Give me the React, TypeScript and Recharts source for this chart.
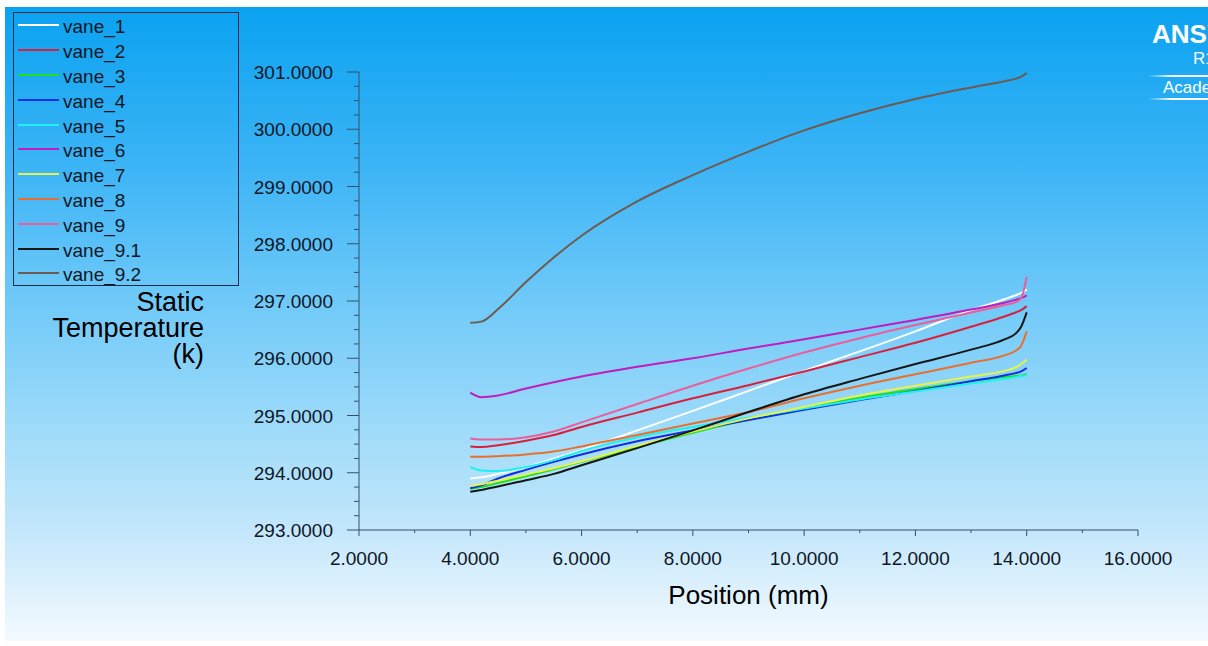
import { LineChart, Line, XAxis, YAxis, Legend } from "recharts";

// positions along the vane (mm)
const positions = [4.0, 4.2, 4.5, 5.0, 5.5, 6.0, 7.0, 8.0, 9.0, 10.0, 11.0, 12.0, 13.0, 13.6, 13.8, 13.9, 14.0];

// static temperature (K) per vane
const vane1 = [293.9, 293.92, 293.98, 294.1, 294.25, 294.4, 294.74, 295.08, 295.43, 295.78, 296.12, 296.47, 296.84, 297.03, 297.1, 297.14, 297.2];
const vane2 = [294.46, 294.45, 294.48, 294.56, 294.66, 294.8, 295.05, 295.3, 295.53, 295.77, 296.02, 296.27, 296.55, 296.73, 296.8, 296.84, 296.91];
const vane3 = [293.72, 293.75, 293.82, 293.94, 294.06, 294.19, 294.45, 294.7, 294.93, 295.13, 295.31, 295.46, 295.6, 295.67, 295.69, 295.7, 295.72];
const vane4 = [293.73, 293.78, 293.9, 294.05, 294.19, 294.32, 294.55, 294.74, 294.92, 295.1, 295.27, 295.43, 295.6, 295.7, 295.74, 295.77, 295.83];
const vane5 = [294.1, 294.04, 294.03, 294.1, 294.22, 294.38, 294.62, 294.8, 294.96, 295.12, 295.28, 295.42, 295.56, 295.64, 295.67, 295.69, 295.7];
const vane6 = [295.4, 295.32, 295.35, 295.47, 295.58, 295.68, 295.85, 296.0, 296.17, 296.33, 296.5, 296.67, 296.85, 296.97, 297.02, 297.05, 297.1];
const vane7 = [293.77, 293.8, 293.86, 293.97, 294.08, 294.2, 294.47, 294.72, 294.95, 295.15, 295.35, 295.52, 295.68, 295.78, 295.84, 295.9, 295.98];
const vane8 = [294.28, 294.28, 294.29, 294.32, 294.37, 294.46, 294.66, 294.86, 295.06, 295.3, 295.52, 295.72, 295.92, 296.05, 296.13, 296.22, 296.47];
const vane9 = [294.6, 294.58, 294.58, 294.62, 294.72, 294.88, 295.2, 295.52, 295.82, 296.1, 296.35, 296.58, 296.8, 296.93, 296.98, 297.05, 297.42];
const vane91 = [293.67, 293.7, 293.76, 293.87, 293.98, 294.13, 294.43, 294.74, 295.06, 295.37, 295.64, 295.9, 296.15, 296.33, 296.43, 296.55, 296.8];
const vane92 = [296.62, 296.64, 296.86, 297.33, 297.76, 298.14, 298.74, 299.2, 299.61, 299.98, 300.28, 300.53, 300.73, 300.84, 300.88, 300.92, 300.98];

const xTicks = [2, 3, 4, 5, 6, 7, 8, 9, 10, 11, 12, 13, 14, 15, 16];
const yMajorTicks = [293, 294, 295, 296, 297, 298, 299, 300, 301];
const yTicks = yMajorTicks.flatMap((v) => (v < 301 ? [v, v + 0.25, v + 0.5, v + 0.75] : [v]));

const series = [
  { key: "vane_1", name: "vane_1", values: vane1, color: "#ffffff" },
  { key: "vane_2", name: "vane_2", values: vane2, color: "#d8203c" },
  { key: "vane_3", name: "vane_3", values: vane3, color: "#1ee01e" },
  { key: "vane_4", name: "vane_4", values: vane4, color: "#1030e0" },
  { key: "vane_5", name: "vane_5", values: vane5, color: "#22f0f0" },
  { key: "vane_6", name: "vane_6", values: vane6, color: "#c01cc0" },
  { key: "vane_7", name: "vane_7", values: vane7, color: "#e6f24e" },
  { key: "vane_8", name: "vane_8", values: vane8, color: "#e8702e" },
  { key: "vane_9", name: "vane_9", values: vane9, color: "#ea5e9c" },
  { key: "vane_9_1", name: "vane_9.1", values: vane91, color: "#161616" },
  { key: "vane_9_2", name: "vane_9.2", values: vane92, color: "#6e5a50" },
];

const data = positions.map((pos, i) => {
  const row: Record<string, number> = { pos };
  series.forEach((s) => (row[s.key] = s.values[i]));
  return row;
});

const FONT = '"Liberation Sans", Arial, sans-serif';
const INK = "#0f1624";
const AXIS = "#34506a";

const YTick = (props: any) => {
  const { x, y, payload } = props;
  const major = Number.isInteger(payload.value);
  return (
    <g>
      <line x1={x - (major ? 12 : 5)} x2={x} y1={y} y2={y} stroke={AXIS} strokeWidth={1} />
      {major && (
        <text x={x - 26} y={y + 7} textAnchor="end" fontSize={19} fill={INK} fontFamily={FONT}>
          {payload.value.toFixed(4)}
        </text>
      )}
    </g>
  );
};

const XTick = (props: any) => {
  const { x, y, payload } = props;
  const major = payload.value % 2 === 0;
  return (
    <g>
      <line x1={x} x2={x} y1={y} y2={y + (major ? 6 : 3)} stroke={AXIS} strokeWidth={1} />
      {major && (
        <text x={x} y={y + 35} textAnchor="middle" fontSize={19} fill={INK} fontFamily={FONT}>
          {payload.value.toFixed(4)}
        </text>
      )}
    </g>
  );
};

const renderLegend = (props: any) => (
  <div
    style={{
      width: 226,
      height: 274,
      border: "1px solid #1a2a48",
      boxSizing: "border-box",
      fontFamily: FONT,
    }}
  >
    {props.payload.map((entry: any) => (
      <div key={entry.value} style={{ display: "flex", alignItems: "center", height: 24.8 }}>
        <span style={{ width: 41, height: 2, background: entry.color, marginLeft: 4, marginRight: 4 }} />
        <span style={{ fontSize: 19, color: INK, lineHeight: "20px", paddingTop: 4 }}>{entry.value}</span>
      </div>
    ))}
  </div>
);

const titleLine = { height: 26, lineHeight: "26px" };

export default function App() {
  return (
    <div
      style={{
        position: "absolute",
        left: 0,
        top: 0,
        width: 1208,
        height: 646,
        background: "#ffffff",
        overflow: "hidden",
      }}
    >
      <div
        style={{
          position: "absolute",
          left: 5,
          top: 7,
          width: 1203,
          height: 634,
          background: "linear-gradient(to bottom, #0aa2f0 0%, #3cb4f6 25%, #6cc8f8 45%, #a2dcfa 68%, #c2e6fb 82%, #f4faff 100%)",
        }}
      />
      {/* ANSYS logo, cut off by the right edge */}
      <div style={{ position: "absolute", left: 1152, top: 19, color: "#ffffff", fontFamily: FONT, fontSize: 26, fontWeight: "bold", whiteSpace: "nowrap" }}>
        ANSYS
      </div>
      <div style={{ position: "absolute", left: 1193, top: 49, color: "#ffffff", fontFamily: FONT, fontSize: 17, whiteSpace: "nowrap" }}>
        R15.0
      </div>
      <div style={{ position: "absolute", left: 1148, top: 75, width: 60, height: 2, background: "linear-gradient(to right, rgba(255,255,255,0), #ffffff 40%)" }} />
      <div style={{ position: "absolute", left: 1163, top: 78, color: "#ffffff", fontFamily: FONT, fontSize: 17, whiteSpace: "nowrap" }}>
        Academic
      </div>
      <div style={{ position: "absolute", left: 1148, top: 98, width: 60, height: 2, background: "linear-gradient(to right, rgba(255,255,255,0), #ffffff 40%)" }} />
      {/* y axis title */}
      <div
        style={{
          position: "absolute",
          right: 1208 - 204,
          top: 289,
          textAlign: "right",
          fontFamily: FONT,
          fontSize: 27,
          color: "#000000",
          whiteSpace: "nowrap",
        }}
      >
        <div style={titleLine}>Static</div>
        <div style={titleLine}>Temperature</div>
        <div style={titleLine}>(k)</div>
      </div>
      <div style={{ position: "absolute", left: 0, top: 0 }}>
        <LineChart width={1208} height={646} data={data} margin={{ top: 72, right: 70, left: 259, bottom: 76 }}>
          <XAxis
            dataKey="pos"
            type="number"
            domain={[2, 16]}
            ticks={xTicks}
            interval={0}
            height={40}
            tickSize={0}
            tickMargin={0}
            tickLine={false}
            axisLine={{ stroke: AXIS }}
            tick={<XTick />}
            label={{ value: "Position (mm)", position: "bottom", offset: 16, fontSize: 26, fill: "#000000", fontFamily: FONT }}
          />
          <YAxis
            type="number"
            domain={[293, 301]}
            ticks={yTicks}
            interval={0}
            width={100}
            tickSize={0}
            tickMargin={0}
            tickLine={false}
            axisLine={{ stroke: AXIS }}
            tick={<YTick />}
          />
          <Legend
            layout="vertical"
            align="center"
            verticalAlign="middle"
            width={226}
            height={274}
            wrapperStyle={{ left: 13, top: 12, width: 226, height: 274 }}
            content={renderLegend}
          />
          {series.map((s) => (
            <Line
              key={s.key}
              dataKey={s.key}
              name={s.name}
              type="monotone"
              stroke={s.color}
              strokeWidth={2}
              dot={false}
              isAnimationActive={false}
            />
          ))}
        </LineChart>
      </div>
    </div>
  );
}
